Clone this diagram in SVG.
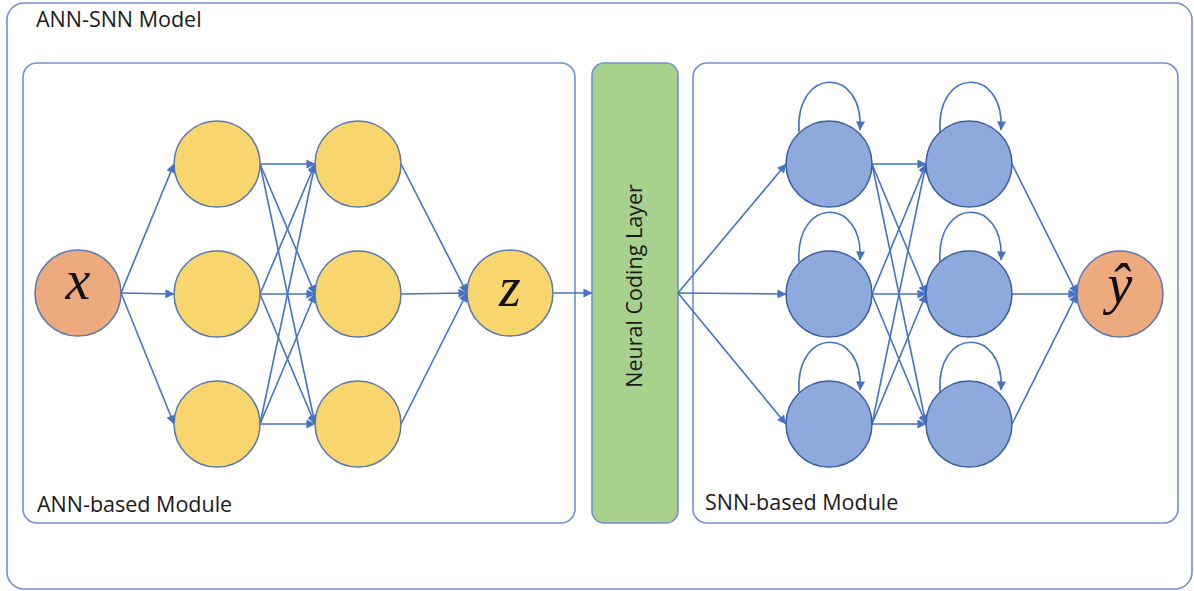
<svg xmlns="http://www.w3.org/2000/svg" width="1194" height="591" viewBox="0 0 1194 591">
  <defs>
    <marker id="arrow" viewBox="0 0 10 10" refX="9.5" refY="5" markerWidth="11" markerHeight="9" markerUnits="userSpaceOnUse" orient="auto">
      <path d="M0,0 L10,5 L0,10 z" fill="#4472C4"/>
    </marker>
    <style>
      .frame { fill: #ffffff; stroke: #7391CC; stroke-width: 1.6; }
      .coding { fill: #A9D18E; stroke: #7391CC; stroke-width: 1.6; }
      .label { font-family: "Open Sans", "Liberation Sans", sans-serif; font-size: 21.5px; fill: #1a1a1a; }
      .math { font-family: "Liberation Serif", "DejaVu Serif", serif; font-style: italic; font-size: 56px; fill: #111111; text-anchor: middle; }
      .in { fill: #EDAA7E; stroke: #5A76AC; stroke-width: 1.5; }
      .ann { fill: #F9D56E; stroke: #5A76AC; stroke-width: 1.5; }
      .snn { fill: #8EA9DB; stroke: #3D5E9E; stroke-width: 1.5; }
      .edge { fill: none; stroke: #4472C4; stroke-width: 1.6; marker-end: url(#arrow); }
    </style>
  </defs>

  <!-- outer container -->
  <g id="model">
    <rect class="frame" x="7" y="3" width="1185" height="586" rx="17"/>
    <text class="label" x="36" y="27">ANN-SNN Model</text>
  </g>

  <g id="ann-module">
    <rect class="frame" x="23" y="63" width="552" height="460" rx="14"/>
    <text class="label" x="37" y="512">ANN-based Module</text>
  </g>

  <g id="neural-coding-layer">
    <rect class="coding" x="592" y="63" width="86" height="460" rx="12"/>
    <text class="label" text-anchor="middle" font-size="22" transform="translate(642,286) rotate(-90)">Neural Coding Layer</text>
  </g>

  <g id="snn-module">
    <rect class="frame" x="693" y="63" width="485" height="460" rx="14"/>
    <text class="label" x="705" y="510">SNN-based Module</text>
  </g>

  <!-- connectors -->
  <g id="connectors">
    <!-- input x to first hidden layer -->
    <line class="edge" x1="121" y1="293" x2="174" y2="164"/>
    <line class="edge" x1="121" y1="293" x2="174" y2="294"/>
    <line class="edge" x1="121" y1="293" x2="174" y2="424"/>
    <!-- hidden layer 1 to hidden layer 2 (fully connected) -->
    <line class="edge" x1="260" y1="164" x2="315" y2="164"/>
    <line class="edge" x1="260" y1="164" x2="315" y2="294"/>
    <line class="edge" x1="260" y1="164" x2="315" y2="424"/>
    <line class="edge" x1="260" y1="294" x2="315" y2="164"/>
    <line class="edge" x1="260" y1="294" x2="315" y2="294"/>
    <line class="edge" x1="260" y1="294" x2="315" y2="424"/>
    <line class="edge" x1="260" y1="424" x2="315" y2="164"/>
    <line class="edge" x1="260" y1="424" x2="315" y2="294"/>
    <line class="edge" x1="260" y1="424" x2="315" y2="424"/>
    <!-- hidden layer 2 to z -->
    <line class="edge" x1="401" y1="164" x2="467" y2="293"/>
    <line class="edge" x1="401" y1="294" x2="467" y2="293"/>
    <line class="edge" x1="401" y1="424" x2="467" y2="293"/>
    <!-- z to coding layer -->
    <line class="edge" x1="553" y1="293" x2="592" y2="293"/>
    <!-- coding layer to spiking layer 1 -->
    <line class="edge" x1="678" y1="293" x2="786" y2="164"/>
    <line class="edge" x1="678" y1="293" x2="786" y2="294"/>
    <line class="edge" x1="678" y1="293" x2="786" y2="424"/>
    <!-- spiking layer 1 to spiking layer 2 (fully connected) -->
    <line class="edge" x1="872" y1="164" x2="926" y2="164"/>
    <line class="edge" x1="872" y1="164" x2="926" y2="294"/>
    <line class="edge" x1="872" y1="164" x2="926" y2="424"/>
    <line class="edge" x1="872" y1="294" x2="926" y2="164"/>
    <line class="edge" x1="872" y1="294" x2="926" y2="294"/>
    <line class="edge" x1="872" y1="294" x2="926" y2="424"/>
    <line class="edge" x1="872" y1="424" x2="926" y2="164"/>
    <line class="edge" x1="872" y1="424" x2="926" y2="294"/>
    <line class="edge" x1="872" y1="424" x2="926" y2="424"/>
    <!-- spiking layer 2 to output -->
    <line class="edge" x1="1012" y1="164" x2="1077" y2="294"/>
    <line class="edge" x1="1012" y1="294" x2="1077" y2="294"/>
    <line class="edge" x1="1012" y1="424" x2="1077" y2="294"/>
    <!-- recurrent self-loops on spiking neurons -->
    <path class="edge" d="M799,132 C795,66 864,66 860,130"/>
    <path class="edge" d="M799,262 C795,196 864,196 860,260"/>
    <path class="edge" d="M799,392 C795,326 864,326 860,390"/>
    <path class="edge" d="M940,132 C936,66 1005,66 1001,130"/>
    <path class="edge" d="M940,262 C936,196 1005,196 1001,260"/>
    <path class="edge" d="M940,392 C936,326 1005,326 1001,390"/>
  </g>

  <!-- ANN nodes -->
  <g id="node-x"><circle class="in" cx="78" cy="293" r="43"/><text class="math" x="78" y="299">x</text></g>
  <g id="node-h1-1"><circle class="ann" cx="217" cy="164" r="43"/></g>
  <g id="node-h1-2"><circle class="ann" cx="217" cy="294" r="43"/></g>
  <g id="node-h1-3"><circle class="ann" cx="217" cy="424" r="43"/></g>
  <g id="node-h2-1"><circle class="ann" cx="358" cy="164" r="43"/></g>
  <g id="node-h2-2"><circle class="ann" cx="358" cy="294" r="43"/></g>
  <g id="node-h2-3"><circle class="ann" cx="358" cy="424" r="43"/></g>
  <g id="node-z"><circle class="ann" cx="510" cy="293" r="43"/><text class="math" x="510" y="306">z</text></g>

  <!-- SNN nodes -->
  <g id="node-s1-1"><circle class="snn" cx="829" cy="164" r="43"/></g>
  <g id="node-s1-2"><circle class="snn" cx="829" cy="294" r="43"/></g>
  <g id="node-s1-3"><circle class="snn" cx="829" cy="424" r="43"/></g>
  <g id="node-s2-1"><circle class="snn" cx="969" cy="164" r="43"/></g>
  <g id="node-s2-2"><circle class="snn" cx="969" cy="294" r="43"/></g>
  <g id="node-s2-3"><circle class="snn" cx="969" cy="424" r="43"/></g>
  <g id="node-yhat"><circle class="in" cx="1120" cy="294" r="43"/><text class="math" x="1120" y="303">ŷ</text></g>
</svg>
